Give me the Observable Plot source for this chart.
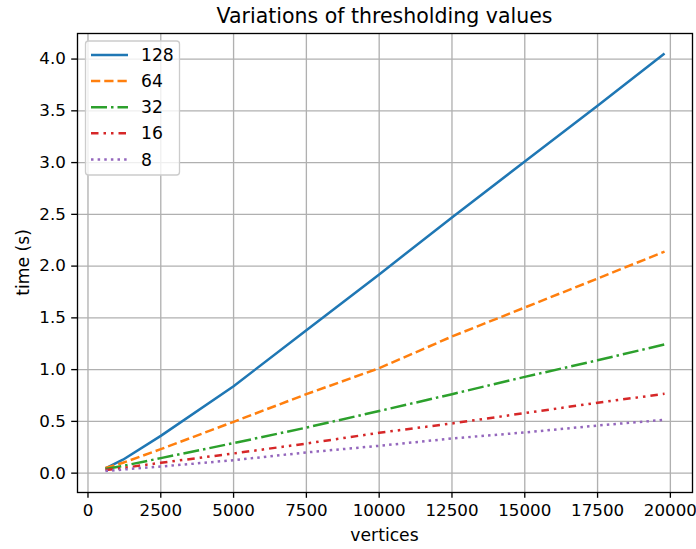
<!DOCTYPE html>
<html>
<head>
<meta charset="utf-8">
<script src="https://cdn.jsdelivr.net/npm/d3@7"></script>
<script src="https://cdn.jsdelivr.net/npm/@observablehq/plot@0.6"></script>
<style>
  html, body { margin: 0; padding: 0; background: white; }
  #chart svg { display: block; }
</style>
</head>
<body>
<div id="chart"></div>
<script>
// ---- data ----
const vertices = [600, 1200, 2500, 5000, 7500, 10000, 12500, 15000, 17500, 19800];
const t128 = [0.045, 0.13, 0.36, 0.84, 1.38, 1.92, 2.47, 3.01, 3.55, 4.054];
const t64  = [0.05, 0.10, 0.232, 0.496, 0.763, 1.014, 1.32, 1.60, 1.88, 2.14];
const t32  = [0.04, 0.07, 0.145, 0.29, 0.44, 0.60, 0.763, 0.93, 1.09, 1.243];
const t16  = [0.03, 0.05, 0.10, 0.19, 0.286, 0.39, 0.48, 0.58, 0.68, 0.766];
const t8   = [0.02, 0.035, 0.064, 0.125, 0.20, 0.264, 0.335, 0.393, 0.46, 0.515];
const seriesNames = ["128", "64", "32", "16", "8"];
const seriesValues = [t128, t64, t32, t16, t8];
const xTicks = [0, 2500, 5000, 7500, 10000, 12500, 15000, 17500, 20000];
const yTicks = [0, 0.5, 1, 1.5, 2, 2.5, 3, 3.5, 4];
const titleText = "Variations of thresholding values";
const xLabel = "vertices";
const yLabel = "time (s)";

// ---- styles ----
const colors = ["#1f77b4", "#ff7f0e", "#2ca02c", "#d62728", "#9467bd"];
const dashes = [null, "9.25,4", "16,4,2.5,4", "7.5,5,2.5,5,2.5,5", "2.5,4.125"];
const LW = 2.5;
const FS = 16.7;
const font = "DejaVu Sans";

const W = 696, H = 549;
const mL = 77, mR = 4, mT = 33, mB = 57;

const lineMarks = seriesValues.map((vals, i) =>
  Plot.line(vertices.map((v, j) => ({x: v, y: vals[j]})), {
    x: "x", y: "y",
    stroke: colors[i],
    strokeWidth: LW,
    strokeDasharray: dashes[i] || undefined,
    strokeLinecap: "butt",
    strokeLinejoin: "round"
  })
);

const chart = Plot.plot({
  width: W, height: H,
  marginLeft: mL, marginRight: mR, marginTop: mT, marginBottom: mB,
  style: {fontFamily: font, fontSize: FS + "px", color: "black", background: "white", overflow: "visible"},
  x: {domain: [-360, 20760]},
  y: {domain: [-0.187, 4.247]},
  marks: [
    Plot.gridX(xTicks, {stroke: "#b0b0b0", strokeOpacity: 1, strokeWidth: 1.33}),
    Plot.gridY(yTicks, {stroke: "#b0b0b0", strokeOpacity: 1, strokeWidth: 1.33}),
    ...lineMarks,
    Plot.frame({stroke: "black", strokeWidth: 1.33}),
    Plot.axisX(xTicks, {tickSize: 5.8, tickPadding: 5.8, fontSize: FS, tickFormat: d => String(d), label: null, strokeWidth: 1.33, fill: "black"}),
    Plot.axisY(yTicks, {tickSize: 5.8, tickPadding: 5.8, fontSize: FS, tickFormat: d3.format(".1f"), label: null, strokeWidth: 1.33, fill: "black"})
  ]
});

document.getElementById("chart").appendChild(chart);

// ---- titles and legend ----
const svg = d3.select(chart.tagName.toLowerCase() === "svg" ? chart : chart.querySelector("svg"));
const cx = (mL + (W - mR)) / 2;
svg.append("text").attr("x", cx).attr("y", 23).attr("text-anchor", "middle")
  .attr("font-family", font).attr("font-size", 20.5).attr("fill", "black").text(titleText);
svg.append("text").attr("x", cx).attr("y", 541).attr("text-anchor", "middle")
  .attr("font-family", font).attr("font-size", 17.2).attr("fill", "black").text(xLabel);
svg.append("text").attr("transform", `translate(29,${(mT + H - mB) / 2}) rotate(-90)`).attr("text-anchor", "middle")
  .attr("font-family", font).attr("font-size", 17.2).attr("fill", "black").text(yLabel);

const lg = svg.append("g");
lg.append("rect").attr("x", 85.5).attr("y", 41).attr("width", 94).attr("height", 134).attr("rx", 3)
  .attr("fill", "white").attr("fill-opacity", 0.8).attr("stroke", "#cccccc").attr("stroke-width", 1.33);
seriesNames.forEach((name, i) => {
  const yy = 55 + i * 26.1;
  lg.append("line").attr("x1", 91).attr("x2", 128).attr("y1", yy).attr("y2", yy)
    .attr("stroke", colors[i]).attr("stroke-width", LW)
    .attr("stroke-dasharray", dashes[i] || null);
  lg.append("text").attr("x", 141).attr("y", yy).attr("dy", "0.36em").attr("text-anchor", "start")
    .attr("font-family", font).attr("font-size", 17.2).attr("fill", "black").text(name);
});
</script>
</body>
</html>
